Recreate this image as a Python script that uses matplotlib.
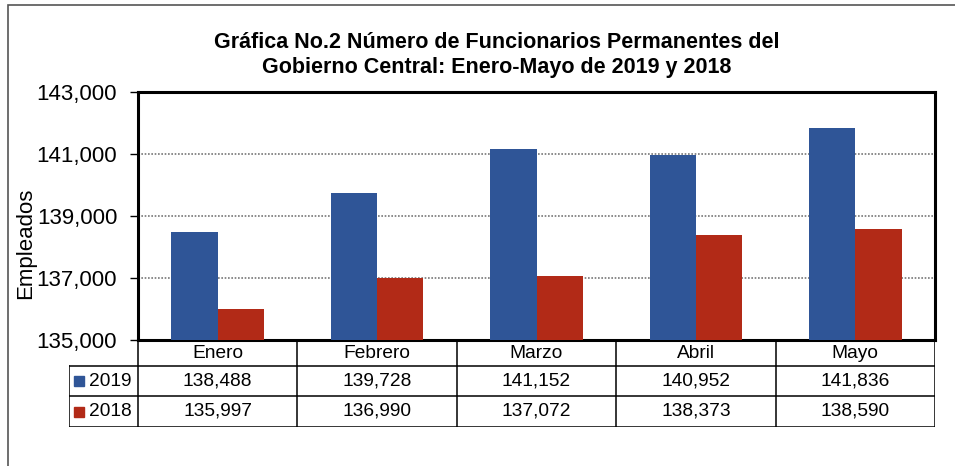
import matplotlib.pyplot as plt
from matplotlib.patches import Rectangle
import numpy as np

plt.rcParams['font.family'] = ['Liberation Sans', 'DejaVu Sans']

# datos
meses = ["Enero", "Febrero", "Marzo", "Abril", "Mayo"]
anios = ["2019", "2018"]
valores_2019 = [138488, 139728, 141152, 140952, 141836]
valores_2018 = [135997, 136990, 137072, 138373, 138590]
colores = ["#2F5597", "#B22A17"]
y_ticks = [135000, 137000, 139000, 141000, 143000]

W, H = 955, 466
fig = plt.figure(figsize=(W / 100, H / 100), dpi=100)

# marco del gráfico (solo se ven izquierda y arriba)
fig.add_artist(Rectangle((8 / W, -0.1), 1.2, 1 - 5 / H + 0.1, transform=fig.transFigure,
                         fill=False, edgecolor="#555555", linewidth=1.2))

# área de trazado en pixeles
x0, x1, y_top, y_bot = 138, 935, 92, 340
ax = fig.add_axes([x0 / W, 1 - y_bot / H, (x1 - x0) / W, (y_bot - y_top) / H])

x = np.arange(len(meses))
ancho = 0.29
ax.bar(x - ancho / 2, valores_2019, ancho, color=colores[0], zorder=3)
ax.bar(x + ancho / 2, valores_2018, ancho, color=colores[1], zorder=3)

ax.set_xlim(-0.5, len(meses) - 0.5)
ax.set_ylim(y_ticks[0], y_ticks[-1])
ax.set_yticks(y_ticks)
ax.set_yticklabels([f"{v:,}" for v in y_ticks], fontsize=16)
ax.set_xticks([])
ax.tick_params(axis="y", length=6, width=1, direction="out", pad=9)
ax.yaxis.grid(True, linestyle=(0, (1, 1)), color="#777777", linewidth=1.2, zorder=0)
for s in ax.spines.values():
    s.set_linewidth(2.2)

fig.text(26 / W, 1 - 243 / H, "Empleados", rotation=90, ha="center", va="center", fontsize=16)

fig.text(497 / W, 1 - 42 / H, "Gráfica No.2 Número de Funcionarios Permanentes del",
         ha="center", va="center", fontsize=15.5, fontweight="bold")
fig.text(497 / W, 1 - 67 / H, "Gobierno Central: Enero-Mayo de 2019 y 2018",
         ha="center", va="center", fontsize=15.5, fontweight="bold")

# tabla de datos (coordenada y en pixeles)
lab_px = 69
cat_px = (x1 - x0) / len(meses)
lab_w = (x0 - lab_px) / cat_px
filas = [y_bot, 366, 396, 427]
tx = fig.add_axes([lab_px / W, 1 - filas[-1] / H, (x1 - lab_px) / W, (filas[-1] - y_bot) / H])
tx.set_xlim(-0.5 - lab_w, len(meses) - 0.5)
tx.set_ylim(filas[-1], filas[0])
tx.axis("off")

lw = 1.1
xl = -0.5 - lab_w
xr = len(meses) - 0.5
tx.plot([-0.5, -0.5], [filas[0], filas[3]], color="black", lw=lw)
tx.plot([xl, xl], [filas[1], filas[3]], color="black", lw=lw)
for i in range(len(meses)):
    tx.plot([i + 0.5, i + 0.5], [filas[0], filas[3]], color="black", lw=lw)
for yy in filas[1:]:
    tx.plot([xl, xr], [yy, yy], color="black", lw=lw)

cen = [(filas[k] + filas[k + 1]) / 2 for k in range(3)]
for i, m in enumerate(meses):
    tx.text(i, cen[0], m, ha="center", va="center", fontsize=13.8)
    tx.text(i, cen[1], f"{valores_2019[i]:,}", ha="center", va="center", fontsize=13.8)
    tx.text(i, cen[2], f"{valores_2018[i]:,}", ha="center", va="center", fontsize=13.8)

for r, (a, c) in enumerate(zip(anios, colores)):
    tx.plot([xl + 0.06], [cen[1 + r]], marker="s", markersize=7.5, color=c, linestyle="none")
    tx.text(xl + 0.125, cen[1 + r], a, ha="left", va="center", fontsize=13.8)

fig.savefig("out.png", dpi=100)
